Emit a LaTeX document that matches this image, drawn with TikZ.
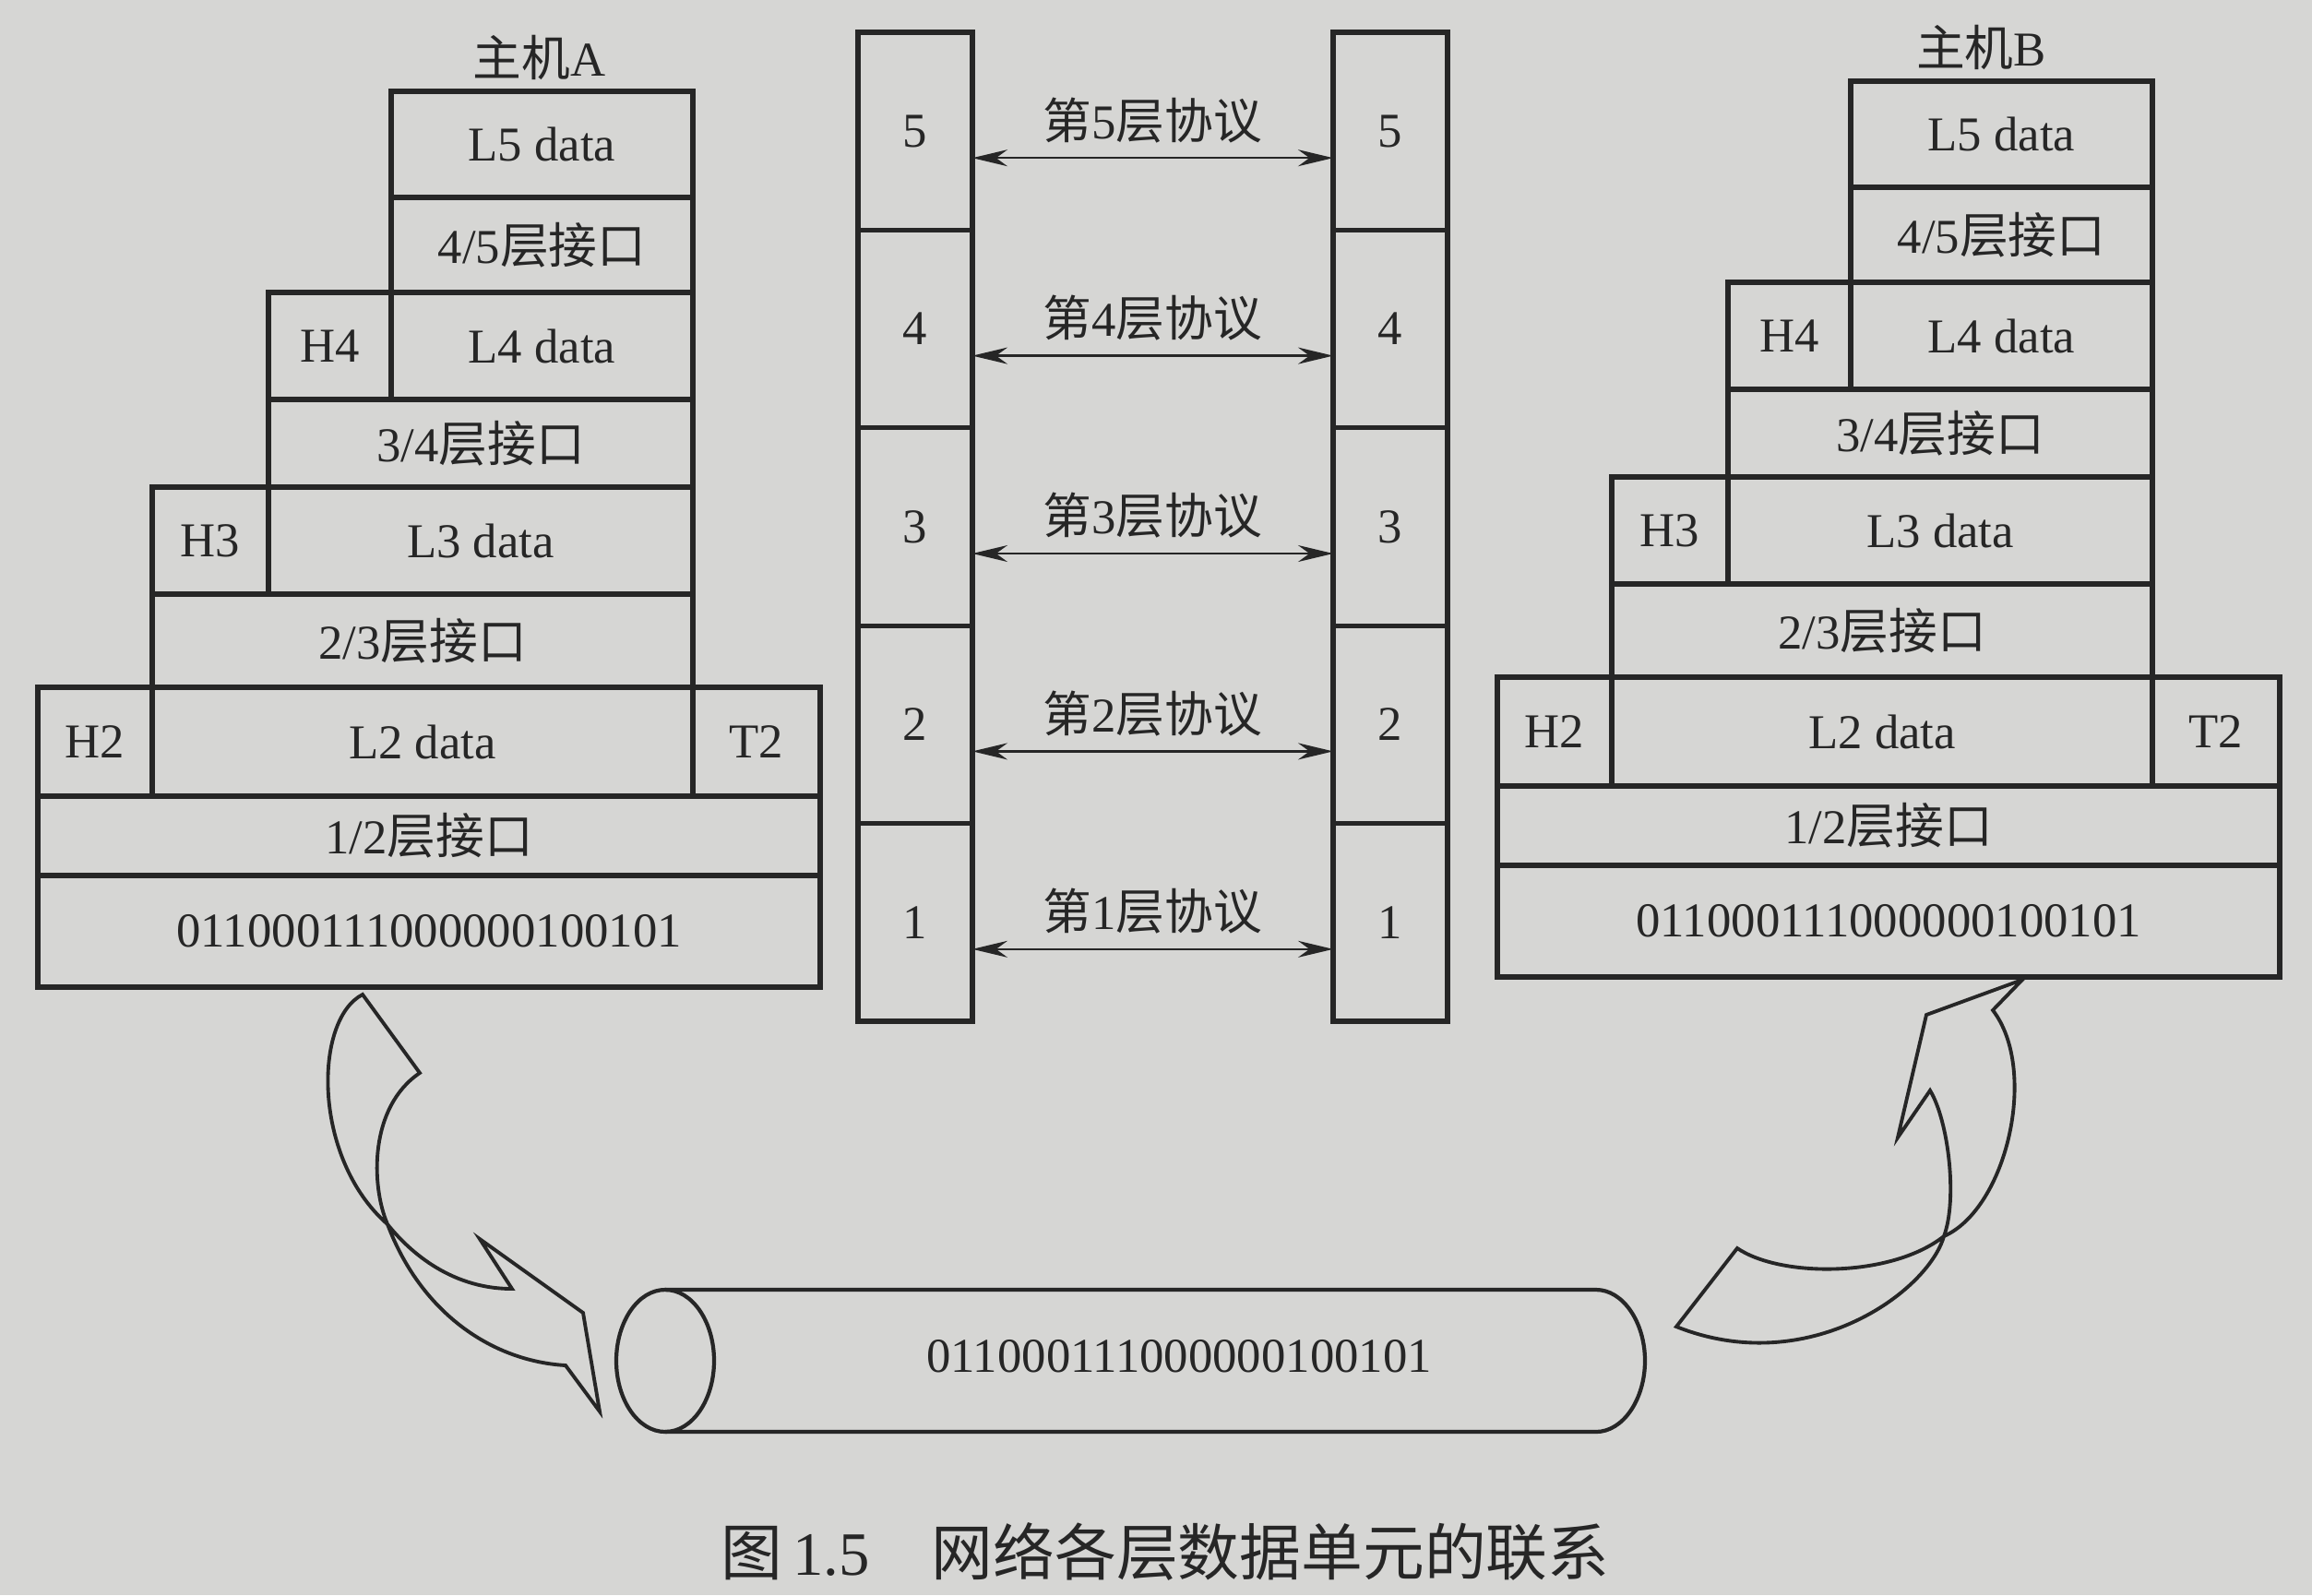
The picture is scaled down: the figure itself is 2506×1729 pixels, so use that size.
\documentclass[tikz,border=0pt]{standalone}
\usepackage{fontspec}
\setmainfont{Liberation Serif}
\newfontfamily\cjk{Noto Sans CJK SC}
\usetikzlibrary{arrows.meta,positioning}
\definecolor{paper}{HTML}{D6D6D4}
\definecolor{ink}{HTML}{262626}

\newcommand{\stackcell}[6]{%
  \node[cell, minimum width={(#4-#2)*0.1mm}, minimum height={(#5-#3)*0.1mm}]
    (#1) at ({(#2+#4)/2},{(#3+#5)/2}) {#6};}
\newcommand{\hoststack}{%
  \stackcell{L5}{383}{0}{710}{115}{L5 data}
  \stackcell{I45}{383}{115}{710}{218}{4/5{\cjk 层接口}}
  \stackcell{H4}{250}{218}{383}{334}{H4}
  \stackcell{L4}{383}{218}{710}{334}{L4 data}
  \stackcell{I34}{250}{334}{710}{429}{3/4{\cjk 层接口}}
  \stackcell{H3}{124}{429}{250}{545}{H3}
  \stackcell{L3}{250}{429}{710}{545}{L3 data}
  \stackcell{I23}{124}{545}{710}{646}{2/3{\cjk 层接口}}
  \stackcell{H2}{0}{646}{124}{764}{H2}
  \stackcell{L2}{124}{646}{710}{764}{L2 data}
  \stackcell{T2}{710}{646}{848}{764}{T2}
  \stackcell{I12}{0}{764}{848}{850}{1/2{\cjk 层接口}}
  \stackcell{bits}{0}{850}{848}{971}{011000111000000100101}}

\begin{document}
\begin{tikzpicture}[x=0.1mm, y=-0.1mm, ink,
    font=\fontsize{15}{18}\selectfont,
    cell/.style={draw, line width=1.5pt, inner sep=0pt, outer sep=0pt},
    layer/.style={cell, minimum width=12.4mm, minimum height=21.44mm},
    proto/.style={{Stealth[length=3.8mm,width=1.8mm]}-{Stealth[length=3.8mm,width=1.8mm]}, line width=0.7pt},
    ribbon/.style={line width=1.1pt},
    tube/.style={line width=1.2pt}]
      \path[use as bounding box, fill=paper] (0,0) rectangle (2506,1729);
      \begin{scope}[shift={(41,99)}, name prefix=a-]
        \hoststack
      \end{scope}
      \begin{scope}[shift={(1623,88)}, name prefix=b-]
        \hoststack
      \end{scope}
      \node[above=0mm of a-L5, xshift=-0.3mm] (hostA) {{\cjk 主机}A};
      \node[above=0mm of b-L5, xshift=-2.2mm] (hostB) {{\cjk 主机}B};
      \foreach \n [count=\i] in {5,4,3,2,1} {
        \node[layer] (pa\n) at (992,{35+214.4*\i-107.2}) {\n};
        \node[layer] (pb\n) at (1507,{35+214.4*\i-107.2}) {\n};
        \draw[proto] ([yshift=-2.9mm]pa\n.east) -- ([yshift=-2.9mm]pb\n.west)
          node[midway, yshift=4.1mm] (lab\n) {{\cjk 第}\n{\cjk 层协议}};
      }
      \draw[tube] (721,1475) ellipse [x radius=5.3mm, y radius=7.7mm];
      \draw[tube] (721,1398) -- (1730,1398) .. controls (1759,1398) and (1783,1433) .. (1783,1475)
        .. controls (1783,1517) and (1759,1552) .. (1730,1552) -- (721,1552);
      \node (wire) at (1278,1470) {011000111000000100101};
      \draw[ribbon] (393,1078) .. controls (340,1105) and (338,1255) .. (420,1327)
        .. controls (440,1352) and (485,1397) .. (555,1397)
        -- (520,1343) -- (632,1423) -- (650,1530) -- (613,1480)
        .. controls (530,1475) and (455,1420) .. (420,1327)
        .. controls (402,1285) and (400,1200) .. (455,1163) -- cycle;
      \draw[ribbon] (2192,1062) -- (2088,1100) -- (2057,1233) -- (2092,1182)
        .. controls (2112,1215) and (2122,1300) .. (2107,1340)
        .. controls (2090,1400) and (1960,1495) .. (1817,1438)
        -- (1883,1353)
        .. controls (1930,1385) and (2050,1385) .. (2107,1340)
        .. controls (2175,1310) and (2210,1160) .. (2160,1095) -- cycle;
      \node[font=\fontsize{19}{23}\selectfont] (caption) at (1263,1682)
        {{\cjk 图}\,1.5\quad{\cjk 网络各层数据单元的联系}};
\end{tikzpicture}
\end{document}
